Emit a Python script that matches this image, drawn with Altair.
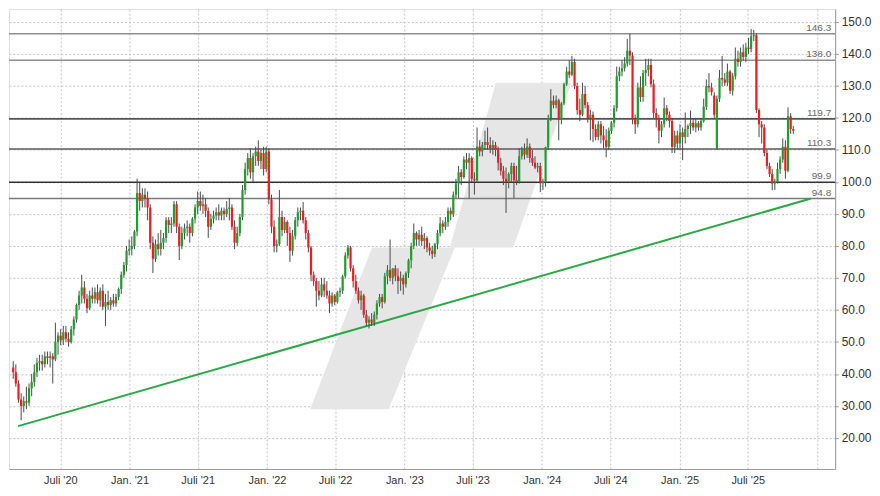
import altair as alt
import pandas as pd

# ---------------- weekly OHLC ----------------
opens = [
    42, 40.5, 37, 32, 30, 31.5, 31, 35.5, 37.5, 40.5,
    43.5, 44, 43, 45.5, 45, 45.5, 44.5, 50, 52, 50.5,
    53, 51, 50, 54, 57, 61.5, 64.5, 67, 63.5, 60.5,
    64.5, 63.5, 65.5, 63, 66, 61, 62.5, 61.5, 63, 62,
    64, 66.5, 71, 74, 78.5, 79, 80, 84.5, 96.5, 94,
    96, 95, 92, 81, 76, 80.5, 79, 81, 82.5, 88,
    86.5, 87, 93, 86, 80, 84, 85.5, 86, 84, 88.5,
    92, 94, 92.5, 93, 91, 86, 88.5, 89.5, 90.5, 89.5,
    91, 90, 91.5, 92, 86, 81, 84, 89, 97.5, 104,
    107.5, 103, 108, 109.5, 106.5, 109, 104, 109.5, 94.5, 86,
    80, 80.5, 89, 85, 87.5, 84, 78.5, 83, 88, 90.5,
    91, 88, 84, 79.5, 71, 69, 66, 64.5, 68, 66,
    64.5, 62, 64.5, 62.5, 65.5, 66, 70.5, 77, 79.5, 73,
    69, 66, 63, 64.5, 58.5, 56, 57, 56, 58.5, 62,
    64, 62.5, 70.5, 72.5, 70, 73, 70.5, 69, 70, 68,
    71.5, 75.5, 80, 84, 82, 83.5, 81.5, 82.5, 79.5, 78.5,
    77.5, 80.5, 84, 87, 86, 87.5, 91, 90, 96, 99.5,
    103, 101.5, 107, 106, 107.5, 101, 100.5, 111, 109.5, 111.5,
    112.5, 111.5, 110.5, 111.5, 110, 106, 103.5, 101, 100, 102.5,
    105, 100.5, 100, 108, 110, 108.5, 111, 107.5, 106, 104.5,
    105, 99.6, 100, 110.8, 120, 125.4, 124, 125.5, 119.5, 124.5,
    130.5, 134.5, 133.5, 137.5, 130, 122.5, 121, 127.5, 124, 120,
    121, 116.5, 114, 118, 114.5, 113, 111, 116, 118.5, 123,
    133, 134.5, 135.5, 137, 141, 139.5, 119.5, 118, 129.5, 126.5,
    134, 135, 136.5, 130.5, 121.5, 119.5, 116, 118, 123, 121,
    119, 111, 114.5, 112, 115.5, 114, 116.5, 117.5, 118.5, 117,
    118.3, 117, 119, 123.5, 130, 129.5, 127, 110.5, 126, 132.5,
    132, 131, 134.5, 128.5, 133, 138.5, 137.5, 140.5, 139, 142,
    141.5, 145.5, 145.8, 122.5, 118, 117, 109, 105, 102.5, 99.5,
    100, 104, 107, 111, 103.5, 120.5, 116.5,
]
highs = [
    44, 43, 38, 34, 33, 36, 37, 40, 43, 45,
    46, 46, 47, 47, 47, 46.5, 56, 53, 54, 55,
    55, 53, 55, 58, 62, 66, 71, 69, 65, 66,
    67, 67, 68, 67, 68, 65, 66, 64, 65, 65,
    67, 72, 75, 80, 82, 83, 85, 101, 100, 98,
    98, 97, 93, 83, 82, 84, 85, 84, 89, 89,
    89, 94, 94, 87, 86, 87, 88, 87, 89, 93,
    97, 97, 96, 95, 92, 90, 91, 92, 93, 92,
    92, 94, 95, 93, 88, 86, 90, 99, 106, 109,
    110.5, 109, 111, 113, 110, 111, 111, 110.5, 96, 88,
    82, 97.5, 91, 89, 88, 86, 85, 89, 92, 92,
    93.7, 89, 85, 80, 72, 70, 69, 70, 70, 69,
    66, 65.5, 65, 66, 67, 71, 78, 80.3, 80, 74,
    71, 67, 66, 65, 60, 58, 59, 59.5, 63, 65,
    65, 71.6, 74, 82, 73, 74, 73, 72, 71, 72,
    76, 81, 87, 84.5, 85, 86, 84, 83, 81, 80,
    81, 85, 89, 88, 89, 92, 92, 97, 101, 105,
    104, 108, 109, 109, 108, 103, 117, 113, 112.5, 116,
    117, 114, 113, 112.5, 111, 107.5, 105, 104.5, 103, 106,
    106, 105, 110.5, 111, 112, 113.6, 112, 110, 108, 106,
    106, 101, 111, 121, 129, 127, 127, 126, 125, 131,
    136, 138, 139.4, 138.5, 131, 126, 131, 130, 125, 122.5,
    122, 118, 119, 119, 117.5, 116.5, 117, 119, 124, 136,
    136, 138, 139, 144.7, 146.3, 140.5, 121, 131, 133, 135,
    138.5, 138.5, 138.5, 132, 123, 121, 119, 126.4, 124, 122,
    120, 116, 116, 118, 117, 121.7, 118, 122.3, 120, 120,
    119, 120, 126, 132, 134, 131, 128, 127, 135, 139.4,
    134, 137, 135, 134, 142, 141, 142, 143, 143.5, 145,
    147.8, 147.5, 146.5, 123, 119, 118, 110, 106, 104, 101,
    106, 108, 113.6, 113, 123.3, 121.5, 117.5,
]
lows = [
    38.5, 36, 31, 25.5, 28, 29, 30, 33, 36, 39,
    41, 41, 42, 43, 42, 37, 44, 46, 49, 49,
    50, 48.5, 49.5, 52, 56, 60, 62, 62, 59, 60,
    62, 62, 62, 61, 60, 55, 60, 60, 61, 61,
    63, 65, 70, 72, 77, 77, 79, 83, 91, 92,
    92, 88, 79, 71.5, 75, 77, 77, 79, 81, 84,
    84, 86, 84, 75.6, 79, 82, 83, 81, 83, 87,
    90, 91, 90, 89, 82.5, 85, 87, 88, 88, 88,
    88, 89, 88, 85, 79, 80, 83, 88, 96, 102,
    101, 100, 105, 105, 104, 102, 103, 93, 84, 78,
    78, 80, 83, 84, 80, 75, 77, 82, 86, 88,
    87, 82, 78, 69, 67.5, 61, 63, 64, 64, 63.5,
    59, 61, 61.5, 62, 64, 65, 70, 76, 72, 67,
    65, 62, 60, 57.5, 55, 54.2, 55, 55, 57, 61,
    60.5, 62, 68, 69, 68, 69, 65, 66, 64.8, 67,
    70, 73, 79, 80, 80, 80, 79, 78, 77, 76,
    76.5, 79, 83, 84, 85, 86, 88, 89, 95, 95,
    99, 101, 104, 95, 100, 96, 100, 108, 108, 110,
    110, 109, 108.5, 108, 103.6, 102, 99, 90.3, 98, 100,
    95, 99, 99.5, 107, 107, 107.5, 106, 105, 104, 103,
    96.8, 97.5, 98.5, 110, 119, 123, 123, 113, 118, 124,
    130, 132.5, 133, 129, 121, 119, 120.5, 123, 118.5, 113,
    112.4, 113, 113, 112, 110.5, 107.7, 110, 115, 117, 122,
    131.5, 133, 134.5, 136, 136.5, 118, 115, 117, 125, 125,
    130, 133, 129.5, 120, 117, 112, 114, 117, 119, 117,
    109, 109, 110, 110, 106.8, 112, 114, 115, 116, 115.5,
    116, 116, 118.5, 122.5, 128, 127, 120, 110, 125, 130,
    130, 130, 127.5, 127, 132, 136, 136, 138, 137.5, 140,
    140.5, 144, 121.5, 114, 112, 108, 104, 101.5, 97.4, 97.5,
    99.5, 102.5, 106, 101, 103, 115, 115,
]
closes = [
    40.5, 37, 32, 30, 31.5, 31, 35.5, 37.5, 40.5, 43.5,
    44, 43, 45.5, 45, 45.5, 44.5, 50, 52, 50.5, 53,
    51, 50, 54, 57, 61.5, 64.5, 67, 63.5, 60.5, 64.5,
    63.5, 65.5, 63, 66, 61, 62.5, 61.5, 63, 62, 64,
    66.5, 71, 74, 78.5, 79, 80, 84.5, 96.5, 94, 96,
    95, 92, 81, 76, 80.5, 79, 81, 82.5, 88, 86.5,
    87, 93, 86, 80, 84, 85.5, 86, 84, 88.5, 92,
    94, 92.5, 93, 91, 86, 88.5, 89.5, 90.5, 89.5, 91,
    90, 91.5, 92, 86, 81, 84, 89, 97.5, 104, 107.5,
    103, 108, 109.5, 106.5, 109, 104, 109.5, 94.5, 86, 80,
    80.5, 89, 85, 87.5, 84, 78.5, 83, 88, 90.5, 91,
    88, 84, 79.5, 71, 69, 66, 64.5, 68, 66, 64.5,
    62, 64.5, 62.5, 65.5, 66, 70.5, 77, 79.5, 73, 69,
    66, 63, 64.5, 58.5, 56, 57, 56, 58.5, 62, 64,
    62.5, 70.5, 72.5, 70, 73, 70.5, 69, 70, 68, 71.5,
    75.5, 80, 84, 82, 83.5, 81.5, 82.5, 79.5, 78.5, 77.5,
    80.5, 84, 87, 86, 87.5, 91, 90, 96, 99.5, 103,
    101.5, 107, 106, 107.5, 101, 100.5, 111, 109.5, 111.5, 112.5,
    111.5, 110.5, 111.5, 110, 106, 103.5, 101, 100, 102.5, 105,
    100.5, 100, 108, 110, 108.5, 111, 107.5, 106, 104.5, 105,
    99.6, 100, 110.8, 120, 125.4, 124, 125.5, 119.5, 124.5, 130.5,
    134.5, 133.5, 137.5, 130, 122.5, 121, 127.5, 124, 120, 121,
    116.5, 114, 118, 114.5, 113, 111, 116, 118.5, 123, 133,
    134.5, 135.5, 137, 141, 139.5, 119.5, 118, 129.5, 126.5, 134,
    135, 136.5, 130.5, 121.5, 119.5, 116, 118, 123, 121, 119,
    111, 114.5, 112, 115.5, 114, 116.5, 117.5, 118.5, 117, 118.3,
    117, 119, 123.5, 130, 129.5, 128, 121, 126, 132.5, 132,
    131, 134.5, 128.5, 133, 138.5, 137.5, 140.5, 139, 142, 141.5,
    145.5, 145.8, 122.5, 118, 117, 109, 105, 102.5, 99.5, 100,
    104, 107, 111, 103.5, 120.5, 116.5, 116,
]
assert len(opens) == len(highs) == len(lows) == len(closes)
week_dates = pd.date_range("2020-02-27", periods=len(closes), freq="7D").strftime("%Y-%m-%d").tolist()

# ---------------- support / resistance levels ----------------
levels = [146.3, 138.0, 119.7, 110.3, 99.9, 94.8]
level_labels = ["146.3", "138.0", "119.7", "110.3", "99.9", "94.8"]
level_colors = ["#8f8f8f", "#8f8f8f", "#555555", "#5a5a5a", "#333333", "#7a7a7a"]

# ---------------- trend line ----------------
trend_dates = ["2020-03-11", "2025-12-16"]
trend_values = [23.7, 94.8]

# ---------------- watermark band (two slanted pieces) ----------------
wm_piece = ["a", "a", "a", "a", "b", "b", "b", "b"]
wm_dates = ["2022-04-26", "2022-10-07", "2022-11-20", "2023-05-15",
            "2023-05-02", "2023-09-01", "2023-10-17", "2024-03-20"]
wm_lo = [29.0, 29.0, 29.0, 79.5, 79.5, 79.5, 79.5, 131.0]
wm_hi = [29.0, 79.5, 79.5, 79.5, 79.5, 131.0, 131.0, 131.0]

# ---------------- axis ticks ----------------
y_ticks = [20, 30, 40, 50, 60, 70, 80, 90, 100, 110, 120, 130, 140, 150]
x_ticks = [(2020, 7), (2021, 1), (2021, 7), (2022, 1), (2022, 7), (2023, 1),
           (2023, 7), (2024, 1), (2024, 7), (2025, 1), (2025, 7), (2026, 1)]

GREEN = "#1f9e2c"
RED = "#ee1c1c"
W, H = 830, 462

df = pd.DataFrame({"date": week_dates, "open": opens, "high": highs,
                   "low": lows, "close": closes})
df["dir"] = ["up" if c >= o else "down" for o, c in zip(opens, closes)]

lv = pd.DataFrame({"v": levels, "label": level_labels, "col": level_colors})
tr = pd.DataFrame({"date": trend_dates, "v": trend_values})
wm = pd.DataFrame({"piece": wm_piece, "date": wm_dates, "lo": wm_lo, "hi": wm_hi})

x_scale = alt.Scale(type="utc",
                    domain=[alt.DateTime(year=2020, month=2, date=29, utc=True),
                            alt.DateTime(year=2026, month=2, date=5, utc=True)])
y_scale = alt.Scale(domain=[10.3, 154.0], nice=False, zero=False)

x_axis = alt.Axis(
    values=[alt.DateTime(year=y, month=m, date=1, utc=True) for y, m in x_ticks],
    labelExpr="utcyear(datum.value) >= 2026 ? '' : (utcmonth(datum.value) == 0 ? 'Jan. ' : 'Juli ') + \"'\" + utcFormat(datum.value, '%y')",
    grid=True, gridDash=[2, 2], gridColor="#c4c4c4", tickSize=0,
    labelPadding=6, labelFontSize=11, labelColor="#333333", labelFont="Liberation Sans",
    domainColor="#9a9a9a", title=None,
)
y_axis = alt.Axis(
    orient="right", values=y_ticks,
    labelExpr="datum.value >= 50 ? format(datum.value, '.1f') : format(datum.value, '.2f')",
    grid=True, gridDash=[2, 2], gridColor="#c4c4c4", tickSize=3, tickColor="#9a9a9a",
    labelPadding=3, labelFontSize=12, labelColor="#333333", labelFont="Liberation Sans",
    labelOverlap=False, domainColor="#9a9a9a", title=None,
)


def X(field):
    return alt.X(field, scale=x_scale, axis=x_axis)


def Y(field):
    return alt.Y(field, scale=y_scale, axis=y_axis)


band = alt.Chart(wm).mark_area(color="#e6e6e6", opacity=1).encode(
    x=X("date:T"), y=Y("lo:Q"), y2="hi:Q", detail="piece:N",
)

rules = alt.Chart(lv).mark_rule(strokeWidth=1.6).encode(
    y=Y("v:Q"), color=alt.Color("col:N", scale=None),
)

labels = alt.Chart(lv).mark_text(align="right", baseline="bottom", dy=-1,
                                 fontSize=10, font="Liberation Sans", color="#666666").encode(
    x=alt.value(W - 4), y=Y("v:Q"), text="label:N",
)

trend = alt.Chart(tr).mark_line(color="#2aa845", strokeWidth=2).encode(
    x=X("date:T"), y=Y("v:Q"),
)

wicks = alt.Chart(df).mark_rule(color="#4a4a4a", strokeWidth=1, clip=True).encode(
    x=X("date:T"), y=Y("low:Q"), y2="high:Q",
)

bodies = alt.Chart(df).mark_bar(size=2.2, clip=True).encode(
    x=X("date:T"), y=Y("open:Q"), y2="close:Q",
    color=alt.Color("dir:N", scale=alt.Scale(domain=["up", "down"], range=[GREEN, RED]), legend=None),
)

chart = alt.layer(band, rules, trend, wicks, bodies, labels).properties(
    width=W, height=H, padding=0,
).configure_view(stroke="#9a9a9a", strokeWidth=1).configure(background="white")

chart.save("out.html", embed_options={"renderer": "svg", "actions": False})
